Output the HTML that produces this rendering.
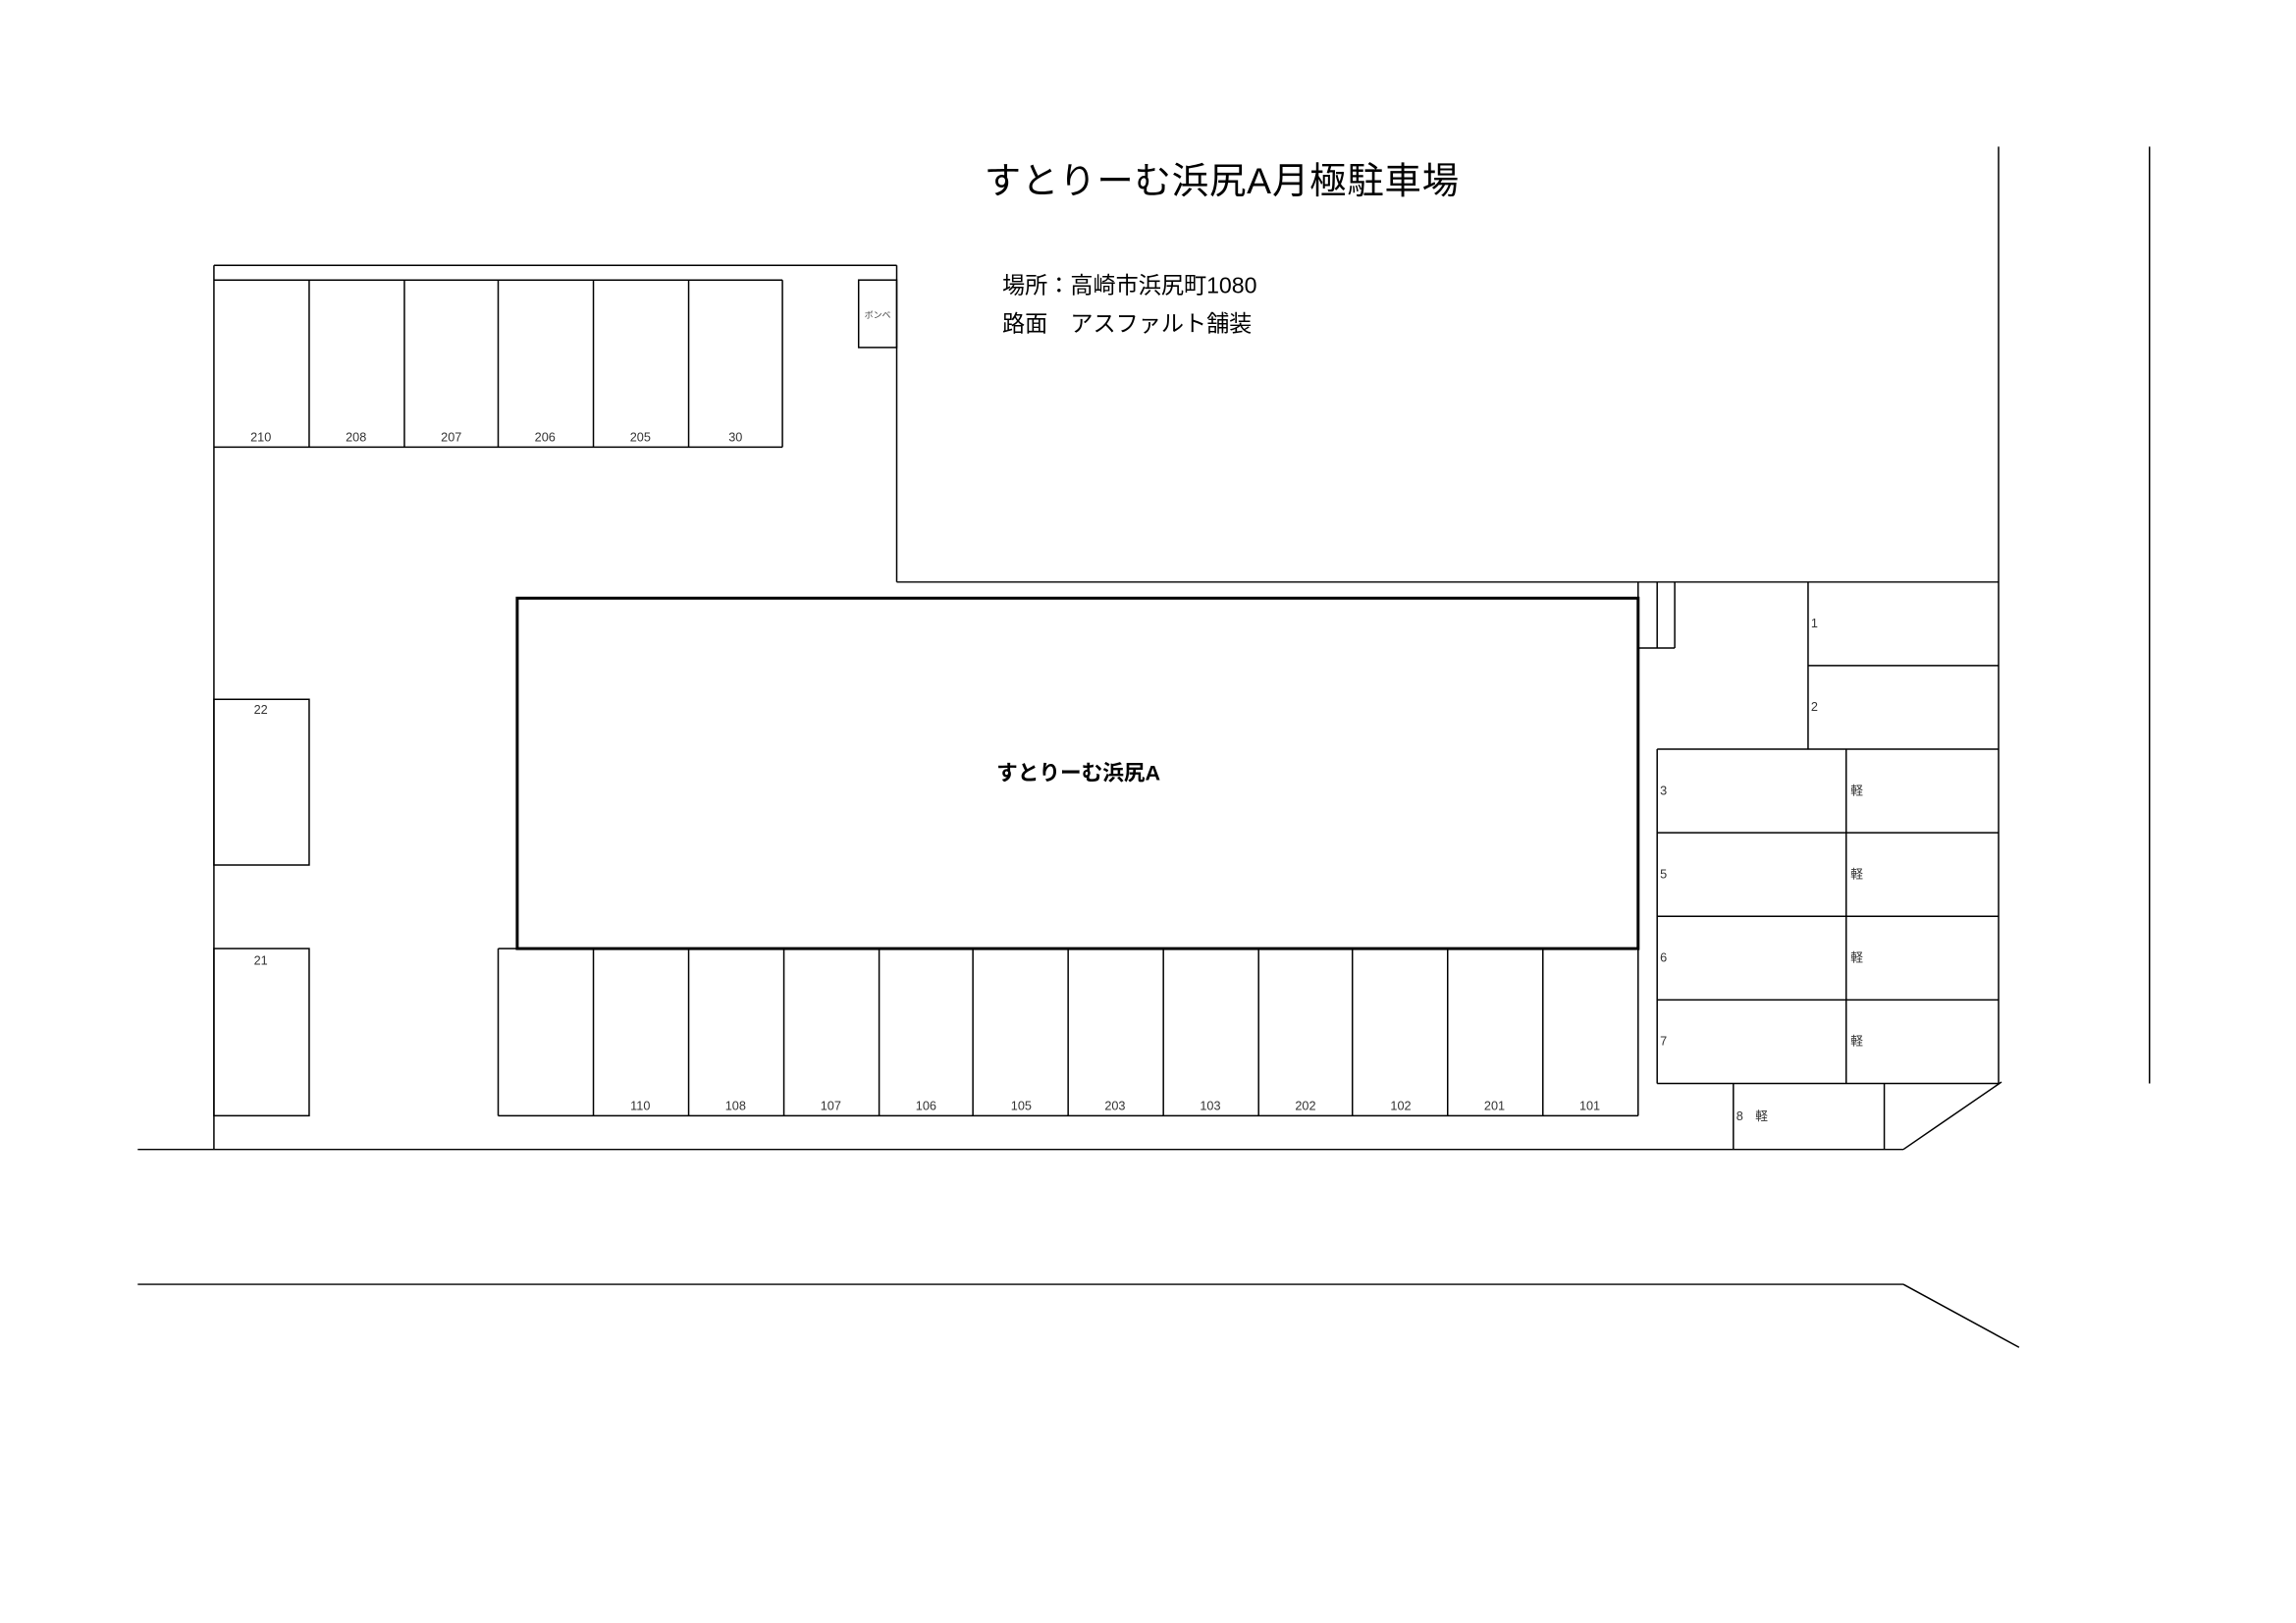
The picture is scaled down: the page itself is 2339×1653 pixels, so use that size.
<!DOCTYPE html>
<html><head><meta charset="utf-8"><style>html,body{margin:0;padding:0;background:#fff}svg{display:block}</style></head>
<body>
<svg width="2339" height="1653" viewBox="0 0 1567 1107" preserveAspectRatio="none" xmlns="http://www.w3.org/2000/svg" font-family="'Liberation Sans','Noto Sans CJK JP',sans-serif">
<g stroke="#000" stroke-width="1" fill="none">
<line x1="146" y1="181" x2="612" y2="181"/>
<line x1="146" y1="191" x2="534" y2="191"/>
<line x1="146" y1="305" x2="534" y2="305"/>
<line x1="146" y1="181" x2="146" y2="784"/>
<line x1="211" y1="191" x2="211" y2="305"/>
<line x1="276" y1="191" x2="276" y2="305"/>
<line x1="340" y1="191" x2="340" y2="305"/>
<line x1="405" y1="191" x2="405" y2="305"/>
<line x1="470" y1="191" x2="470" y2="305"/>
<line x1="534" y1="191" x2="534" y2="305"/>
<line x1="612" y1="181" x2="612" y2="397"/>
<line x1="612" y1="397" x2="1364" y2="397"/>
<rect x="586" y="191" width="26" height="46"/>
<rect x="353" y="408" width="765" height="239" stroke-width="2"/>
<line x1="1118" y1="397" x2="1118" y2="761"/>
<line x1="1131" y1="397" x2="1131" y2="442"/>
<line x1="1143" y1="397" x2="1143" y2="442"/>
<line x1="1118" y1="442" x2="1143" y2="442"/>
<line x1="1234" y1="397" x2="1234" y2="511"/>
<line x1="1234" y1="454" x2="1364" y2="454"/>
<line x1="1131" y1="511" x2="1364" y2="511"/>
<line x1="1131" y1="568" x2="1364" y2="568"/>
<line x1="1131" y1="625" x2="1364" y2="625"/>
<line x1="1131" y1="682" x2="1364" y2="682"/>
<line x1="1131" y1="739" x2="1364" y2="739"/>
<line x1="1131" y1="511" x2="1131" y2="739"/>
<line x1="1260" y1="511" x2="1260" y2="739"/>
<line x1="1183" y1="739" x2="1183" y2="784"/>
<line x1="1286" y1="739" x2="1286" y2="784"/>
<line x1="1364" y1="100" x2="1364" y2="739"/>
<line x1="1467" y1="100" x2="1467" y2="739"/>
<line x1="94" y1="784" x2="1299" y2="784"/>
<line x1="1299" y1="784" x2="1366" y2="738"/>
<line x1="94" y1="876" x2="1299" y2="876"/>
<line x1="1299" y1="876" x2="1378" y2="919"/>
<rect x="146" y="477" width="65" height="113"/>
<rect x="146" y="647" width="65" height="114"/>
<line x1="340" y1="647" x2="1118" y2="647"/>
<line x1="340" y1="761" x2="1118" y2="761"/>
<line x1="340" y1="647" x2="340" y2="761"/>
<line x1="405" y1="647" x2="405" y2="761"/>
<line x1="470" y1="647" x2="470" y2="761"/>
<line x1="535" y1="647" x2="535" y2="761"/>
<line x1="600" y1="647" x2="600" y2="761"/>
<line x1="664" y1="647" x2="664" y2="761"/>
<line x1="729" y1="647" x2="729" y2="761"/>
<line x1="794" y1="647" x2="794" y2="761"/>
<line x1="859" y1="647" x2="859" y2="761"/>
<line x1="923" y1="647" x2="923" y2="761"/>
<line x1="988" y1="647" x2="988" y2="761"/>
<line x1="1053" y1="647" x2="1053" y2="761"/>
</g>
<g fill="#000">
<text x="834" y="132" font-size="25" text-anchor="middle" letter-spacing="0.6">すとりーむ浜尻A月極駐車場</text>
<text x="684" y="200" font-size="15.5">場所：高崎市浜尻町1080</text>
<text x="684" y="226" font-size="15.5">路面　アスファルト舗装</text>
<text x="736" y="532" font-size="14.5" font-weight="bold" text-anchor="middle">すとりーむ浜尻A</text>
<text x="599" y="217" font-size="6" text-anchor="middle" fill="#444">ボンベ</text>
<g font-size="8.5" text-anchor="middle" fill="#333">
<text x="178" y="301">210</text><text x="243" y="301">208</text><text x="308" y="301">207</text><text x="372" y="301">206</text><text x="437" y="301">205</text><text x="502" y="301">30</text>
<text x="178" y="487">22</text><text x="178" y="658">21</text>
<text x="437" y="757">110</text><text x="502" y="757">108</text><text x="567" y="757">107</text><text x="632" y="757">106</text><text x="697" y="757">105</text><text x="761" y="757">203</text><text x="826" y="757">103</text><text x="891" y="757">202</text><text x="956" y="757">102</text><text x="1020" y="757">201</text><text x="1085" y="757">101</text>
</g>
<g font-size="8.5" fill="#333">
<text x="1236" y="428">1</text><text x="1236" y="485">2</text>
<text x="1133" y="542">3</text><text x="1133" y="599">5</text><text x="1133" y="656">6</text><text x="1133" y="713">7</text>
<text x="1263" y="542">軽</text><text x="1263" y="599">軽</text><text x="1263" y="656">軽</text><text x="1263" y="713">軽</text>
<text x="1185" y="764">8</text><text x="1198" y="764">軽</text>
</g>
</g>
</svg>
</body></html>
